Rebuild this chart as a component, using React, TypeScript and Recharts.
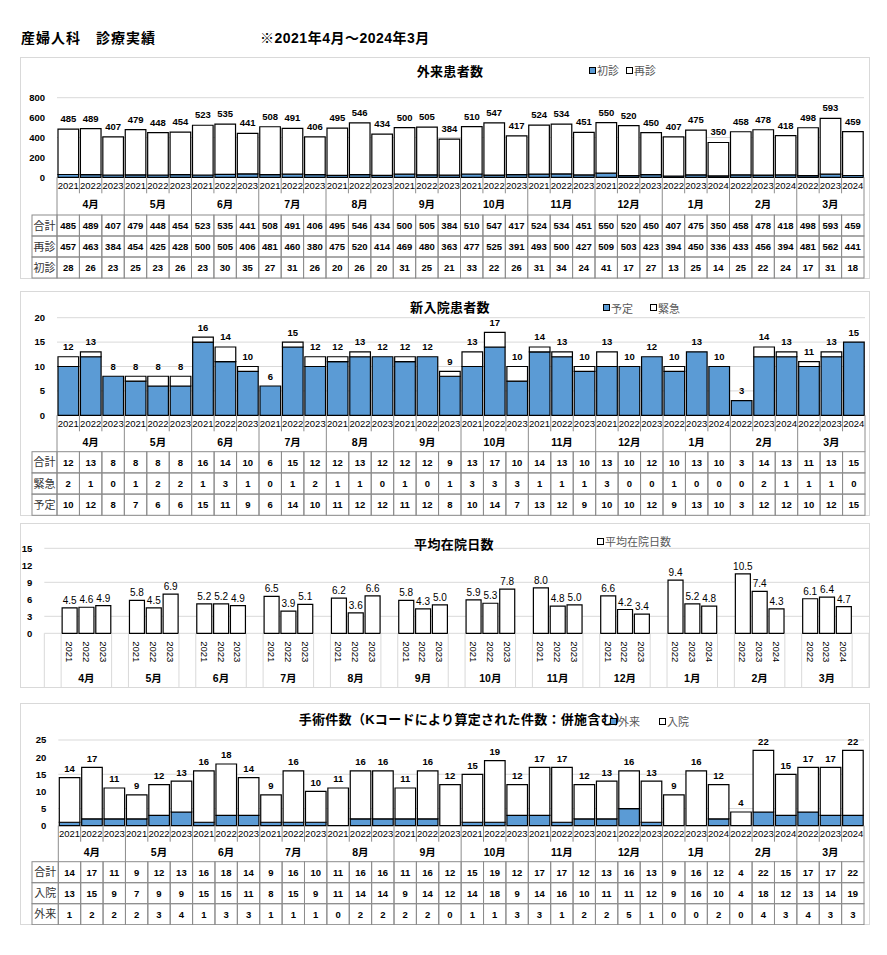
import React from "react";
import { BarChart, Bar, XAxis, YAxis, CartesianGrid, LabelList } from "recharts";

const FONT = '"Liberation Sans", "Noto Sans CJK JP", sans-serif';
const BLUE = "#5b9bd5";
const GRID = "#d9d9d9";
const LINE = "#8c8c8c";
const PANEL_X = 20;
const PANEL_W = 850;
const LABEL_X = 12;

const MONTHS = ["4月", "5月", "6月", "7月", "8月", "9月", "10月", "11月", "12月", "1月", "2月", "3月"];
const YEARS = [
  "2021", "2022", "2023", "2021", "2022", "2023", "2021", "2022", "2023",
  "2021", "2022", "2023", "2021", "2022", "2023", "2021", "2022", "2023",
  "2021", "2022", "2023", "2021", "2022", "2023", "2021", "2022", "2023",
  "2022", "2023", "2024", "2022", "2023", "2024", "2022", "2023", "2024",
];

// 外来患者数
const OUT_TOTAL = [485, 489, 407, 479, 448, 454, 523, 535, 441, 508, 491, 406, 495, 546, 434, 500, 505, 384, 510, 547, 417, 524, 534, 451, 550, 520, 450, 407, 475, 350, 458, 478, 418, 498, 593, 459];
const OUT_REVISIT = [457, 463, 384, 454, 425, 428, 500, 505, 406, 481, 460, 380, 475, 520, 414, 469, 480, 363, 477, 525, 391, 493, 500, 427, 509, 503, 423, 394, 450, 336, 433, 456, 394, 481, 562, 441];
const OUT_FIRST = [28, 26, 23, 25, 23, 26, 23, 30, 35, 27, 31, 26, 20, 26, 20, 31, 25, 21, 33, 22, 26, 31, 34, 24, 41, 17, 27, 13, 25, 14, 25, 22, 24, 17, 31, 18];

// 新入院患者数
const ADM_TOTAL = [12, 13, 8, 8, 8, 8, 16, 14, 10, 6, 15, 12, 12, 13, 12, 12, 12, 9, 13, 17, 10, 14, 13, 10, 13, 10, 12, 10, 13, 10, 3, 14, 13, 11, 13, 15];
const ADM_EMERG = [2, 1, 0, 1, 2, 2, 1, 3, 1, 0, 1, 2, 1, 1, 0, 1, 0, 1, 3, 3, 3, 1, 1, 1, 3, 0, 0, 1, 0, 0, 0, 2, 1, 1, 1, 0];
const ADM_PLAN = [10, 12, 8, 7, 6, 6, 15, 11, 9, 6, 14, 10, 11, 12, 12, 11, 12, 8, 10, 14, 7, 13, 12, 9, 10, 10, 12, 9, 13, 10, 3, 12, 12, 10, 12, 15];

// 平均在院日数
const STAY = [4.5, 4.6, 4.9, 5.8, 4.5, 6.9, 5.2, 5.2, 4.9, 6.5, 3.9, 5.1, 6.2, 3.6, 6.6, 5.8, 4.3, 5.0, 5.9, 5.3, 7.8, 8.0, 4.8, 5.0, 6.6, 4.2, 3.4, 9.4, 5.2, 4.8, 10.5, 7.4, 4.3, 6.1, 6.4, 4.7];

// 手術件数
const OPE_TOTAL = [14, 17, 11, 9, 12, 13, 16, 18, 14, 9, 16, 10, 11, 16, 16, 11, 16, 12, 15, 19, 12, 17, 17, 12, 13, 16, 13, 9, 16, 12, 4, 22, 15, 17, 17, 22];
const OPE_IN = [13, 15, 9, 7, 9, 9, 15, 15, 11, 8, 15, 9, 11, 14, 14, 9, 14, 12, 14, 18, 9, 14, 16, 10, 11, 11, 12, 9, 16, 10, 4, 18, 12, 13, 14, 19];
const OPE_OUT = [1, 2, 2, 2, 3, 4, 1, 3, 3, 1, 1, 1, 0, 2, 2, 2, 2, 0, 1, 1, 3, 3, 1, 2, 2, 5, 1, 0, 0, 2, 0, 4, 3, 4, 3, 3];

type Row = { label: string; values: number[] };
type LegendItem = { x: number; label: string; fill: string };

function Panel({ top, height }: { top: number; height: number }) {
  return (
    <div
      style={{
        position: "absolute",
        left: PANEL_X,
        top,
        width: PANEL_W,
        height,
        border: "1px solid #d9d9d9",
        boxSizing: "border-box",
      }}
    />
  );
}

function Title({ x, y, text }: { x: number; y: number; text: string }) {
  return (
    <div
      style={{
        position: "absolute",
        left: x,
        top: y,
        transform: "translate(-50%, -50%)",
        fontSize: 13,
        fontWeight: "bold",
        letterSpacing: 0.3,
        whiteSpace: "nowrap",
        color: "#000",
      }}
    >
      {text}
    </div>
  );
}

function Legend({ y, items }: { y: number; items: LegendItem[] }) {
  return (
    <>
      {items.map((it) => (
        <div
          key={it.label}
          style={{
            position: "absolute",
            left: it.x,
            top: y,
            transform: "translateY(-50%)",
            display: "flex",
            alignItems: "center",
            gap: 1,
            fontSize: 11,
            color: "#595959",
            whiteSpace: "nowrap",
          }}
        >
          <span
            style={{
              width: 5,
              height: 5,
              border: "1px solid #000",
              background: it.fill,
              display: "inline-block",
            }}
          />
          <span>{it.label}</span>
        </div>
      ))}
    </>
  );
}

// label drawn above a bar rectangle, value comes from the LabelList dataKey
const makeLabel = (offset: number, fontSize: number, bold: boolean, digits: number) => (props: any) => {
  const vb = props.viewBox ?? {};
  const x = props.x ?? vb.x;
  const y = props.y ?? vb.y;
  const w = props.width ?? vb.width ?? 0;
  const v = props.value;
  if (x == null || y == null || v == null || v === "") return null;
  return (
    <text
      x={x + w / 2}
      y={y - offset}
      textAnchor="middle"
      dominantBaseline="central"
      fontSize={fontSize}
      fontWeight={bold ? "bold" : "normal"}
      fontFamily={FONT}
      fill="#000"
    >
      {digits > 0 ? Number(v).toFixed(digits) : v}
    </text>
  );
};

type StackProps = {
  top: number;
  height: number;
  plotTop: number;
  plotBottom: number;
  plotLeft: number;
  plotRight: number;
  yMax: number;
  yTicks: number[];
  lower: number[];
  upper: number[];
  totals: number[];
  rows: Row[];
  yearH: number;
  monthH: number;
  rowH: number;
  labelOffset: number;
};

function StackChart(p: StackProps) {
  const data = YEARS.map((year, i) => ({
    key: `${MONTHS[Math.floor(i / 3)]}-${year}`,
    lower: p.lower[i],
    upper: p.upper[i],
    // total goes on the top segment, or on the lower one when the top is empty
    labTop: p.upper[i] > 0 ? p.totals[i] : null,
    labLow: p.upper[i] > 0 ? null : p.totals[i],
  }));
  const band = (p.plotRight - p.plotLeft) / data.length;
  const monthTop = p.plotBottom + p.yearH;
  const tableTop = monthTop + p.monthH;
  const label = makeLabel(p.labelOffset, 9.5, true, 0);

  const renderTick = (props: any) => {
    const index = props.index ?? props.payload?.index ?? 0;
    const x = props.x;
    const left = x - band / 2;
    return (
      <g key={`t-${index}`} fontFamily={FONT}>
        <line
          x1={left}
          x2={left}
          y1={p.plotBottom}
          y2={index % 3 === 0 ? tableTop : monthTop}
          stroke={LINE}
        />
        {index === data.length - 1 && (
          <line x1={left + band} x2={left + band} y1={p.plotBottom} y2={tableTop} stroke={LINE} />
        )}
        <text x={x} y={p.plotBottom + p.yearH / 2} textAnchor="middle" dominantBaseline="central" fontSize={9.5} fill="#000">
          {YEARS[index]}
        </text>
        {index % 3 === 1 && (
          <text x={x} y={monthTop + p.monthH / 2} textAnchor="middle" dominantBaseline="central" fontSize={10.5} fontWeight="bold" fill="#000">
            {MONTHS[Math.floor(index / 3)]}
          </text>
        )}
        {p.rows.map((r, k) => (
          <g key={r.label}>
            <rect x={left} y={tableTop + k * p.rowH} width={band} height={p.rowH} fill="none" stroke={LINE} />
            <text x={x} y={tableTop + k * p.rowH + p.rowH / 2} textAnchor="middle" dominantBaseline="central" fontSize={9.5} fontWeight="bold" fill="#000">
              {r.values[index]}
            </text>
            {index === 0 && (
              <>
                <rect x={LABEL_X} y={tableTop + k * p.rowH} width={left - LABEL_X} height={p.rowH} fill="none" stroke={LINE} />
                <text x={(LABEL_X + left) / 2} y={tableTop + k * p.rowH + p.rowH / 2} textAnchor="middle" dominantBaseline="central" fontSize={11} fill="#333">
                  {r.label}
                </text>
              </>
            )}
          </g>
        ))}
      </g>
    );
  };

  return (
    <div style={{ position: "absolute", left: PANEL_X, top: p.top }}>
      <BarChart
        width={PANEL_W}
        height={p.height}
        data={data}
        margin={{ top: p.plotTop, right: PANEL_W - p.plotRight, left: 0, bottom: 0 }}
        barSize={band - 1.8}
        barGap={0}
      >
        <CartesianGrid vertical={false} stroke={GRID} />
        <YAxis
          domain={[0, p.yMax]}
          ticks={p.yTicks}
          width={p.plotLeft}
          axisLine={false}
          tickLine={false}
          tickSize={0}
          tickMargin={12}
          tick={{ fontSize: 9.5, fontWeight: "bold", fill: "#000", fontFamily: FONT }}
        />
        <XAxis
          dataKey="key"
          interval={0}
          height={p.height - p.plotBottom}
          axisLine={false}
          tickLine={false}
          tickSize={0}
          tickMargin={0}
          tick={renderTick}
        />
        <Bar dataKey="lower" stackId="s" fill={BLUE} stroke="#000" strokeWidth={1.2} isAnimationActive={false}>
          <LabelList dataKey="labLow" content={label} />
        </Bar>
        <Bar dataKey="upper" stackId="s" fill="#fff" stroke="#000" strokeWidth={1.2} isAnimationActive={false}>
          <LabelList dataKey="labTop" content={label} />
        </Bar>
      </BarChart>
    </div>
  );
}

function StayChart() {
  const top = 523;
  const height = 165;
  const plotTop = 25.3;
  const plotBottom = 110.3;
  const plotLeft = 24.3;
  const plotRight = 849;

  // Excel layout: an empty slot before the first month and after every month
  const slots: { key: string; year: string; month: string; stay: number | null; edge: boolean }[] = [];
  slots.push({ key: "gap-start", year: "", month: "", stay: null, edge: true });
  MONTHS.forEach((m, mi) => {
    for (let k = 0; k < 3; k++) {
      slots.push({
        key: `${m}-${YEARS[mi * 3 + k]}`,
        year: YEARS[mi * 3 + k],
        month: k === 1 ? m : "",
        stay: STAY[mi * 3 + k],
        edge: k === 0,
      });
    }
    slots.push({ key: `${m}-gap`, year: "", month: "", stay: null, edge: true });
  });
  const band = (plotRight - plotLeft) / slots.length;

  const renderTick = (props: any) => {
    const index = props.index ?? props.payload?.index ?? 0;
    const x = props.x;
    const left = x - band / 2;
    const s = slots[index];
    return (
      <g key={`s-${index}`} fontFamily={FONT}>
        {s.edge && <line x1={left} x2={left} y1={plotBottom} y2={height} stroke={GRID} />}
        {index === slots.length - 1 && (
          <line x1={left + band} x2={left + band} y1={plotBottom} y2={height} stroke={GRID} />
        )}
        {s.year && (
          <text
            transform={`translate(${x},${plotBottom + 18.4}) rotate(90)`}
            textAnchor="middle"
            dominantBaseline="central"
            fontSize={9.5}
            fill="#000"
          >
            {s.year}
          </text>
        )}
        {s.month && (
          <text x={x} y={plotBottom + 45} textAnchor="middle" dominantBaseline="central" fontSize={10.5} fontWeight="bold" fill="#000">
            {s.month}
          </text>
        )}
      </g>
    );
  };

  return (
    <div style={{ position: "absolute", left: PANEL_X, top }}>
      <BarChart
        width={PANEL_W}
        height={height}
        data={slots}
        margin={{ top: plotTop, right: PANEL_W - plotRight, left: 0, bottom: 0 }}
        barSize={15}
      >
        <CartesianGrid vertical={false} stroke={GRID} />
        <YAxis
          domain={[0, 15]}
          ticks={[0, 3, 6, 9, 12, 15]}
          width={plotLeft}
          axisLine={false}
          tickLine={false}
          tickSize={0}
          tickMargin={12}
          tick={{ fontSize: 9.5, fontWeight: "bold", fill: "#000", fontFamily: FONT }}
        />
        <XAxis
          dataKey="key"
          interval={0}
          height={height - plotBottom}
          axisLine={false}
          tickLine={false}
          tickSize={0}
          tickMargin={0}
          tick={renderTick}
        />
        <Bar dataKey="stay" fill="#fff" stroke="#000" strokeWidth={1.2} isAnimationActive={false}>
          <LabelList dataKey="stay" content={makeLabel(7.5, 10, false, 1)} />
        </Bar>
      </BarChart>
    </div>
  );
}

export default function App() {
  return (
    <div
      style={{
        position: "absolute",
        left: 0,
        top: 0,
        width: 887,
        height: 955,
        background: "#fff",
        fontFamily: FONT,
        overflow: "hidden",
      }}
    >
      <div style={{ position: "absolute", left: 21, top: 37, transform: "translateY(-50%)", fontSize: 14, fontWeight: "bold", letterSpacing: 1, whiteSpace: "nowrap" }}>
        産婦人科　診療実績
      </div>
      <div style={{ position: "absolute", left: 260, top: 37, transform: "translateY(-50%)", fontSize: 14, fontWeight: "bold", letterSpacing: 0.5, whiteSpace: "nowrap" }}>
        ※2021年4月～2024年3月
      </div>

      <Panel top={57} height={222} />
      <StackChart
        top={57}
        height={222}
        plotTop={40.7}
        plotBottom={120.3}
        plotLeft={37}
        plotRight={844}
        yMax={800}
        yTicks={[0, 200, 400, 600, 800]}
        lower={OUT_FIRST}
        upper={OUT_REVISIT}
        totals={OUT_TOTAL}
        rows={[
          { label: "合計", values: OUT_TOTAL },
          { label: "再診", values: OUT_REVISIT },
          { label: "初診", values: OUT_FIRST },
        ]}
        yearH={16}
        monthH={21.7}
        rowH={21}
        labelOffset={10.5}
      />
      <Title x={450} y={70} text="外来患者数" />
      <Legend
        y={70}
        items={[
          { x: 589, label: "初診", fill: BLUE },
          { x: 626, label: "再診", fill: "#fff" },
        ]}
      />

      <Panel top={291} height={225} />
      <StackChart
        top={291}
        height={225}
        plotTop={26.7}
        plotBottom={124.3}
        plotLeft={37}
        plotRight={845}
        yMax={20}
        yTicks={[0, 5, 10, 15, 20]}
        lower={ADM_PLAN}
        upper={ADM_EMERG}
        totals={ADM_TOTAL}
        rows={[
          { label: "合計", values: ADM_TOTAL },
          { label: "緊急", values: ADM_EMERG },
          { label: "予定", values: ADM_PLAN },
        ]}
        yearH={16}
        monthH={20.4}
        rowH={21.2}
        labelOffset={10}
      />
      <Title x={450} y={306} text="新入院患者数" />
      <Legend
        y={307.5}
        items={[
          { x: 603, label: "予定", fill: BLUE },
          { x: 650, label: "緊急", fill: "#fff" },
        ]}
      />

      <Panel top={523} height={165} />
      <StayChart />
      <Title x={454} y={543} text="平均在院日数" />
      <Legend y={541} items={[{ x: 597, label: "平均在院日数", fill: "#fff" }]} />

      <Panel top={703} height={222} />
      <StackChart
        top={703}
        height={222}
        plotTop={37}
        plotBottom={122.7}
        plotLeft={38.3}
        plotRight={844}
        yMax={25}
        yTicks={[0, 5, 10, 15, 20, 25]}
        lower={OPE_OUT}
        upper={OPE_IN}
        totals={OPE_TOTAL}
        rows={[
          { label: "合計", values: OPE_TOTAL },
          { label: "入院", values: OPE_IN },
          { label: "外来", values: OPE_OUT },
        ]}
        yearH={16}
        monthH={20}
        rowH={21}
        labelOffset={9}
      />
      <Title x={463} y={718} text="手術件数（Kコードにより算定された件数：併施含む）" />
      <Legend
        y={721}
        items={[
          { x: 610, label: "外来", fill: BLUE },
          { x: 659, label: "入院", fill: "#fff" },
        ]}
      />
    </div>
  );
}
